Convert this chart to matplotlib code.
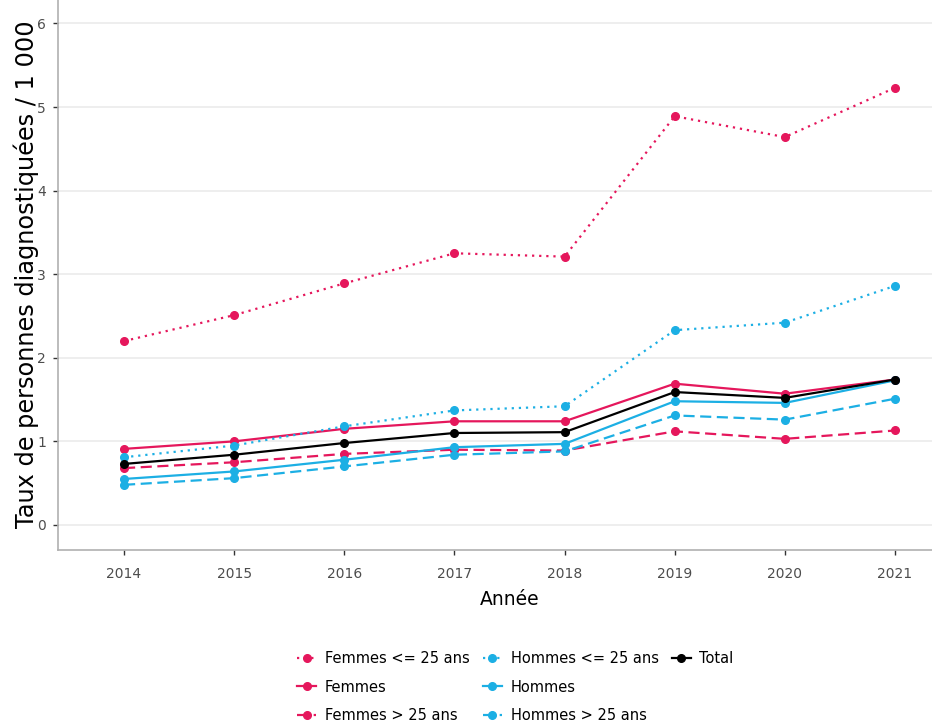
import matplotlib
matplotlib.use("Agg")
import matplotlib.pyplot as plt
from matplotlib.lines import Line2D

years = [2014, 2015, 2016, 2017, 2018, 2019, 2020, 2021]

femmes_jeunes = [2.20, 2.51, 2.89, 3.25, 3.21, 4.89, 4.64, 5.23]
femmes = [0.91, 1.00, 1.15, 1.24, 1.24, 1.69, 1.57, 1.74]
femmes_agees = [0.68, 0.75, 0.85, 0.90, 0.89, 1.12, 1.03, 1.13]
hommes_jeunes = [0.81, 0.95, 1.18, 1.37, 1.42, 2.33, 2.42, 2.86]
hommes = [0.55, 0.64, 0.78, 0.93, 0.97, 1.48, 1.46, 1.73]
hommes_agees = [0.48, 0.56, 0.70, 0.84, 0.88, 1.31, 1.26, 1.51]
total = [0.73, 0.84, 0.98, 1.10, 1.11, 1.59, 1.52, 1.74]

pink = "#E5175C"
blue = "#1CAFE4"

series = [
    ("Femmes <= 25 ans", femmes_jeunes, pink, (0, (1, 2.2))),
    ("Femmes", femmes, pink, "-"),
    ("Femmes > 25 ans", femmes_agees, pink, (0, (5, 2.5))),
    ("Hommes <= 25 ans", hommes_jeunes, blue, (0, (1, 2.2))),
    ("Hommes", hommes, blue, "-"),
    ("Hommes > 25 ans", hommes_agees, blue, (0, (5, 2.5))),
    ("Total", total, "black", "-"),
]

fig = plt.figure(figsize=(9.32, 7.24), dpi=100)
# the panel runs a little past the right edge of the picture (cropped)
ax = fig.add_axes([0.0622, 0.2403, 0.969, 0.762])

handles, labels = [], []
for label, vals, col, ls in series:
    h, = ax.plot(years, vals, color=col, linestyle=ls, linewidth=1.6,
                 marker="o", markersize=5.5, label=label)
    handles.append(h)
    labels.append(label)

# blank entries so Total sits alone in the third column
blank = Line2D([], [], linestyle="none")
handles += [blank, blank]
labels += ["", ""]

ax.set_xlim(2013.4, 2021.6)
ax.set_ylim(-0.3, 6.3)
ax.set_xticks(years)
ax.set_yticks(range(0, 7))
ax.grid(axis="y", color="#EBEBEB", linewidth=1.2)
ax.set_axisbelow(True)
for s in ["top", "right"]:
    ax.spines[s].set_visible(False)
for s in ["left", "bottom"]:
    ax.spines[s].set_color("#B0B0B0")
    ax.spines[s].set_linewidth(1.2)
ax.tick_params(colors="#4D4D4D", labelsize=10, length=3.5, width=1,
               color="#333333", pad=5)
ax.tick_params(axis="x", pad=9)

ax.set_xlabel("Année", fontsize=13.5, labelpad=6)
ax.set_ylabel("Taux de personnes diagnostiquées / 1 000", fontsize=17.3, labelpad=-1)

fig.legend(handles, labels, loc="center", bbox_to_anchor=(0.553, 0.051), ncol=3,
           frameon=False, fontsize=10.5, handlelength=1.3, columnspacing=0.9,
           labelspacing=0.95, handletextpad=0.6)

fig.savefig("out.png", dpi=100)
